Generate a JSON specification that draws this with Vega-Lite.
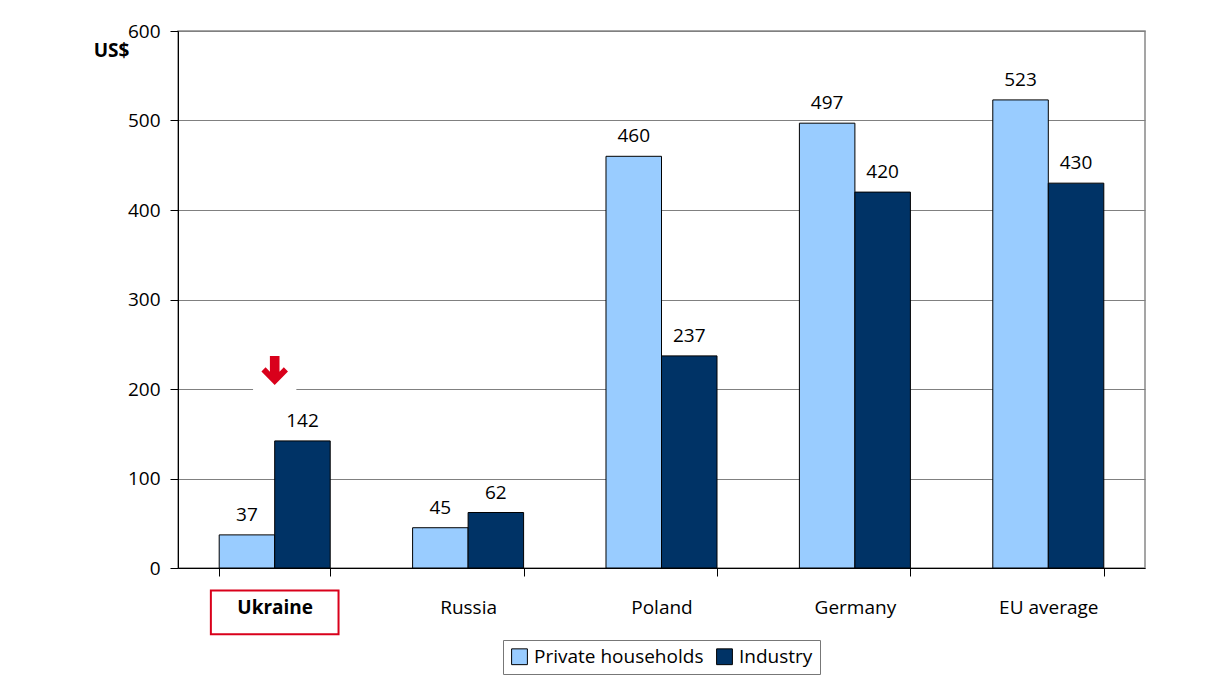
{
  "$schema": "https://vega.github.io/schema/vega-lite/v6.json",
  "width": 967,
  "height": 537,
  "autosize": {"type": "none"},
  "padding": {"left": 178, "top": 31, "right": 72, "bottom": 132},
  "background": "white",
  "config": {
    "font": "Open Sans",
    "view": {"stroke": "#888888", "strokeWidth": 1.5}
  },
  "datasets": {
    "prices": [
      {"country": "Ukraine", "sector": "Private households", "value": 37},
      {"country": "Ukraine", "sector": "Industry", "value": 142},
      {"country": "Russia", "sector": "Private households", "value": 45},
      {"country": "Russia", "sector": "Industry", "value": 62},
      {"country": "Poland", "sector": "Private households", "value": 460},
      {"country": "Poland", "sector": "Industry", "value": 237},
      {"country": "Germany", "sector": "Private households", "value": 497},
      {"country": "Germany", "sector": "Industry", "value": 420},
      {"country": "EU average", "sector": "Private households", "value": 523},
      {"country": "EU average", "sector": "Industry", "value": 430}
    ],
    "highlight": [{"country": "Ukraine"}]
  },
  "layer": [
    {
      "data": {"name": "prices"},
      "mark": {"type": "bar", "stroke": "black", "strokeWidth": 1},
      "encoding": {
        "x": {
          "field": "country",
          "type": "nominal",
          "sort": ["Ukraine", "Russia", "Poland", "Germany", "EU average"],
          "scale": {"paddingInner": 0.426, "paddingOuter": 0.213},
          "axis": {
            "title": null,
            "labelAngle": 0,
            "labelFontSize": 19,
            "labelColor": "black",
            "labelPadding": 22,
            "labelFontWeight": {"condition": {"test": "datum.value == 'Ukraine'", "value": "bold"}, "value": "normal"},
            "domainColor": "black",
            "tickColor": "black",
            "tickSize": 8,
            "tickBand": "extent",
            "grid": false
          }
        },
        "y": {
          "field": "value",
          "type": "quantitative",
          "scale": {"domain": [0, 600]},
          "axis": {
            "title": "US$",
            "titleAngle": 0,
            "titleFontWeight": "bold",
            "titleFontSize": 19,
            "titleColor": "black",
            "titleX": -67,
            "titleY": 19,
            "titleAlign": "center",
            "titleBaseline": "middle",
            "values": [0, 100, 200, 300, 400, 500, 600],
            "labelFontSize": 19,
            "labelColor": "black",
            "labelPadding": 10,
            "domainColor": "black",
            "tickColor": "black",
            "tickSize": 8,
            "gridColor": "#808080",
            "gridWidth": 1.2
          }
        },
        "xOffset": {"field": "sector", "type": "nominal", "sort": ["Private households", "Industry"], "scale": {"paddingInner": 0, "paddingOuter": 0}},
        "fill": {
          "field": "sector",
          "type": "nominal",
          "sort": ["Private households", "Industry"],
          "scale": {"domain": ["Private households", "Industry"], "range": ["#99CCFF", "#003366"]},
          "legend": {
            "title": null,
            "orient": "none",
            "direction": "horizontal",
            "legendX": 325,
            "legendY": 609,
            "strokeColor": "#777777",
            "padding": 7,
            "symbolType": "square",
            "symbolSize": 250,
            "symbolStrokeColor": "black",
            "symbolStrokeWidth": 1,
            "labelFontSize": 19,
            "labelColor": "black",
            "labelLimit": 400,
            "labelOffset": 5,
            "columnPadding": 10
          }
        }
      }
    },
    {
      "data": {"name": "prices"},
      "mark": {"type": "text", "baseline": "bottom", "dy": -10, "fontSize": 19, "color": "black"},
      "encoding": {
        "x": {"field": "country", "type": "nominal", "sort": ["Ukraine", "Russia", "Poland", "Germany", "EU average"]},
        "y": {"field": "value", "type": "quantitative"},
        "xOffset": {"field": "sector", "type": "nominal", "sort": ["Private households", "Industry"]},
        "text": {"field": "value", "type": "quantitative"}
      }
    },
    {
      "data": {"name": "highlight"},
      "mark": {"type": "bar", "fill": "white", "width": {"band": 0.39}},
      "encoding": {
        "x": {"field": "country", "type": "nominal", "sort": ["Ukraine", "Russia", "Poland", "Germany", "EU average"]},
        "y": {"datum": 193, "type": "quantitative"},
        "y2": {"datum": 245}
      }
    },
    {
      "data": {"name": "highlight"},
      "mark": {
        "type": "point",
        "filled": true,
        "color": "#D9001B",
        "opacity": 1,
        "size": 640,
        "shape": "M -0.38,-1.2 L 0.38,-1.2 L 0.38,0.05 L 0.72,-0.3 L 1.05,0.03 L 0,1.1 L -1.05,0.03 L -0.72,-0.3 L -0.38,0.05 Z"
      },
      "encoding": {
        "x": {"field": "country", "type": "nominal", "sort": ["Ukraine", "Russia", "Poland", "Germany", "EU average"]},
        "y": {"datum": 220, "type": "quantitative"}
      }
    },
    {
      "data": {"name": "highlight"},
      "mark": {"type": "bar", "fill": "white", "fillOpacity": 0, "stroke": "#D9001B", "strokeWidth": 2, "width": {"band": 1.15}},
      "encoding": {
        "x": {"field": "country", "type": "nominal", "sort": ["Ukraine", "Russia", "Poland", "Germany", "EU average"]},
        "y": {"datum": -25, "type": "quantitative"},
        "y2": {"datum": -74}
      }
    }
  ]
}
